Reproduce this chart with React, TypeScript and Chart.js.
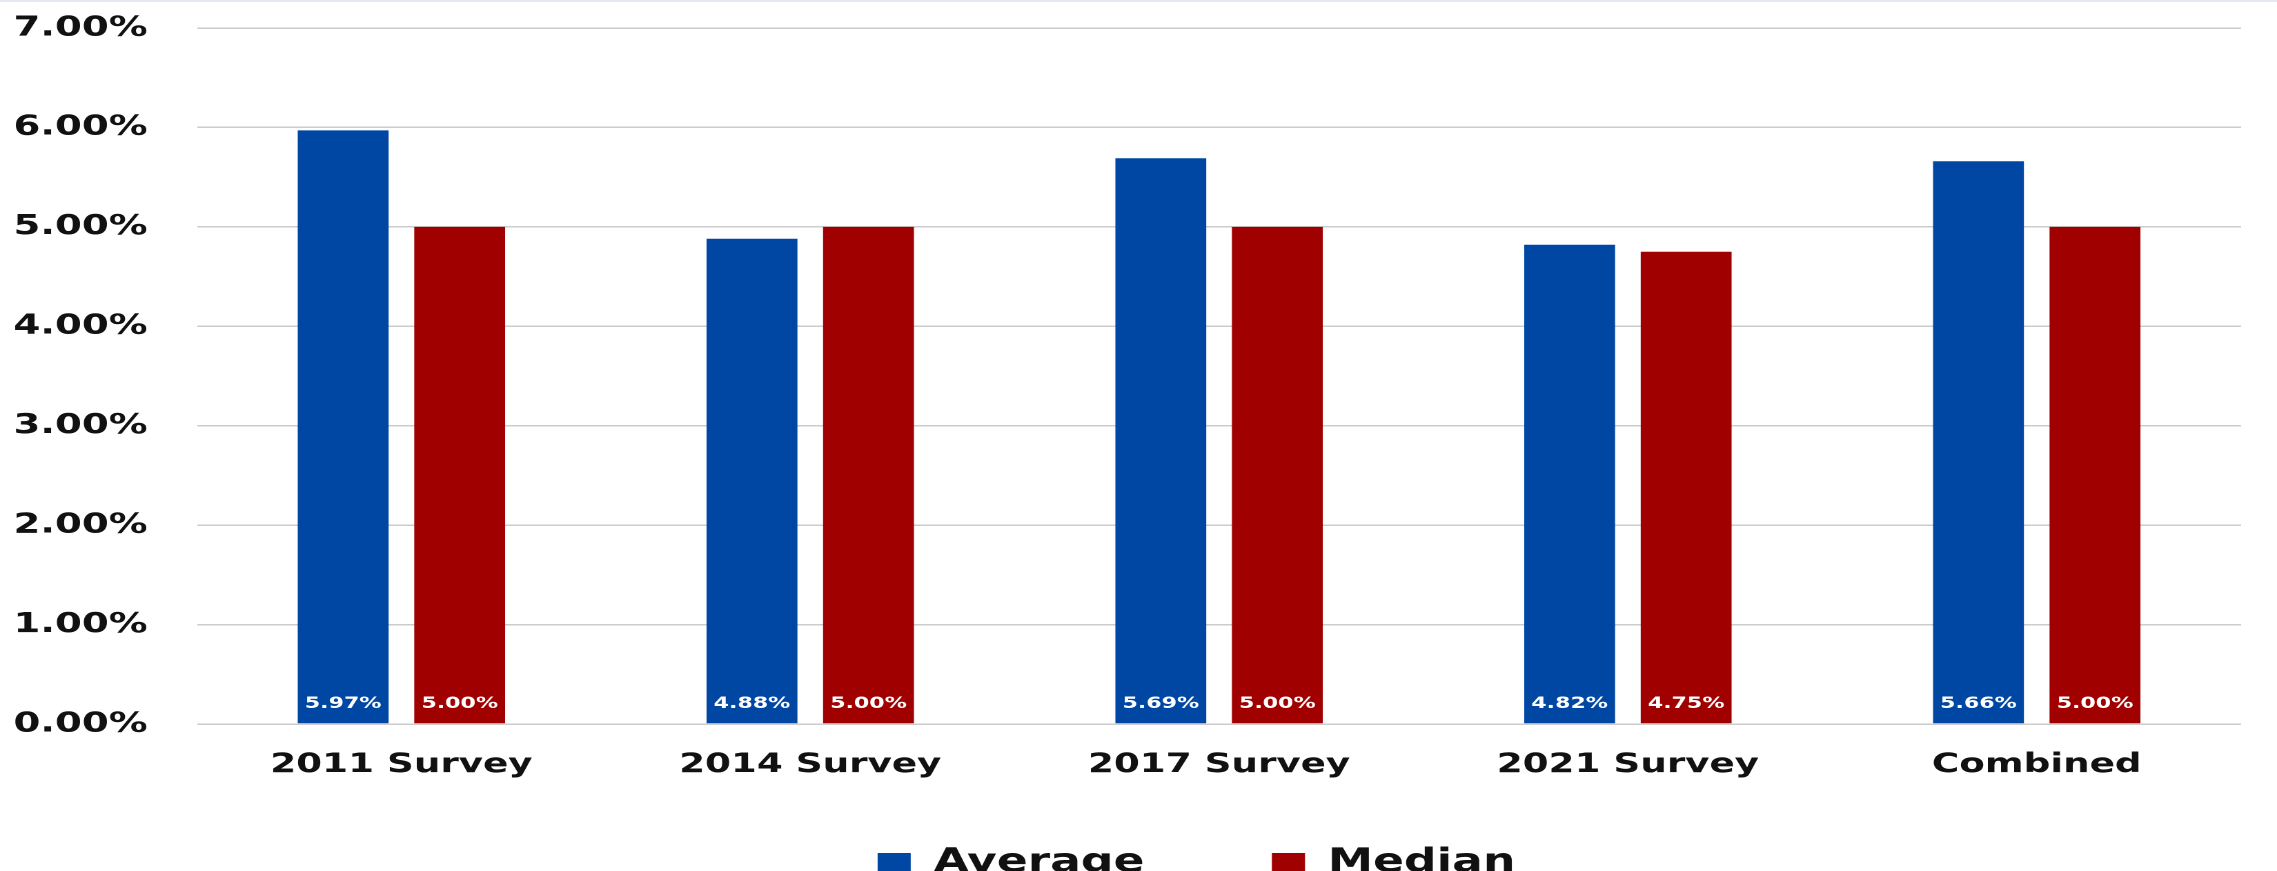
import React, { useEffect, useRef } from "react";
import { Chart, registerables } from "chart.js";

Chart.register(...registerables);

// ---- data ----
const categories = ["2011 Survey", "2014 Survey", "2017 Survey", "2021 Survey", "Combined"];
const seriesNames = ["Average", "Median"];
const averageValues = [5.97, 4.88, 5.69, 4.82, 5.66];
const medianValues = [5.0, 5.0, 5.0, 4.75, 5.0];
const yMin = 0;
const yMax = 7;
const yStep = 1;

// ---- style ----
const BLUE = "#0047A3";
const RED = "#A00000";
const FONT = "'DejaVu Sans', Verdana, sans-serif";
// the reference picture is horizontally stretched; reproduce the same aspect
const STRETCH = 1.38;
const W = 2277 / STRETCH;
const H = 871;

const fmt = (v: number) => v.toFixed(2) + "%";

const valueLabels = {
  id: "valueLabels",
  afterDatasetsDraw(chart: any) {
    const ctx = chart.ctx;
    const base = chart.scales.y.getPixelForValue(0);
    ctx.save();
    ctx.font = "bold 16px " + FONT;
    ctx.fillStyle = "#ffffff";
    ctx.textAlign = "center";
    ctx.textBaseline = "alphabetic";
    chart.data.datasets.forEach((ds: any, di: number) => {
      const meta = chart.getDatasetMeta(di);
      meta.data.forEach((bar: any, i: number) => {
        ctx.fillText(fmt(ds.data[i]), bar.x, base - 16);
      });
    });
    ctx.restore();
  },
};

export default function App() {
  const canvasRef = useRef<HTMLCanvasElement | null>(null);

  useEffect(() => {
    document.body.style.margin = "0";
    document.body.style.overflow = "hidden";
    document.body.style.background = "#ffffff";
    const canvas = canvasRef.current;
    if (!canvas) return;
    const chart = new Chart(canvas, {
      type: "bar",
      data: {
        labels: categories,
        datasets: [
          {
            label: seriesNames[0],
            data: averageValues,
            backgroundColor: BLUE,
            borderWidth: 0,
            categoryPercentage: 0.57,
            barPercentage: 0.78,
          },
          {
            label: seriesNames[1],
            data: medianValues,
            backgroundColor: RED,
            borderWidth: 0,
            categoryPercentage: 0.57,
            barPercentage: 0.78,
          },
        ],
      },
      options: {
        animation: false,
        responsive: true,
        maintainAspectRatio: false,
        devicePixelRatio: 2,
        layout: {
          padding: { top: 28, right: 26, left: 110, bottom: -18.5 },
        },
        plugins: {
          tooltip: { enabled: false },
          legend: {
            position: "bottom",
            align: "center",
            labels: {
              boxWidth: 24,
              boxHeight: 20,
              padding: 92.4,
              color: "#111111",
              font: { family: FONT, size: 33, weight: "bold" },
            },
          },
        },
        scales: {
          x: {
            grid: { display: false, drawTicks: false },
            border: { display: false },
            ticks: {
              color: "#111111",
              mirror: true,
              padding: -57,
              maxRotation: 0,
              autoSkip: false,
              font: { family: FONT, size: 27, weight: "bold" },
            },
            afterFit: (scale: any) => {
              scale.height = 30.1;
            },
          },
          y: {
            min: yMin,
            max: yMax,
            grid: { color: "#cccccc", lineWidth: 1.5, drawTicks: false },
            border: { display: false },
            ticks: {
              stepSize: yStep,
              color: "#111111",
              mirror: true,
              padding: -133,
              font: { family: FONT, size: 28, weight: "bold" },
              callback: (v: any) => fmt(Number(v)),
            },
            afterFit: (scale: any) => {
              scale.width = 32.75;
            },
          },
        },
      },
      plugins: [valueLabels],
    });
    return () => chart.destroy();
  }, []);

  return (
    <div style={{ position: "relative", width: "2277px", height: H + "px", overflow: "hidden" }}>
      <div
        style={{
          position: "absolute",
          left: 0,
          top: 0,
          width: W + "px",
          height: H + "px",
          transform: `scaleX(${STRETCH})`,
          transformOrigin: "0 0",
        }}
      >
        <canvas ref={canvasRef} />
      </div>
      <div
        style={{
          position: "absolute",
          left: 0,
          top: 0,
          width: "100%",
          height: "2px",
          background: "#e4e8f2",
        }}
      />
    </div>
  );
}
